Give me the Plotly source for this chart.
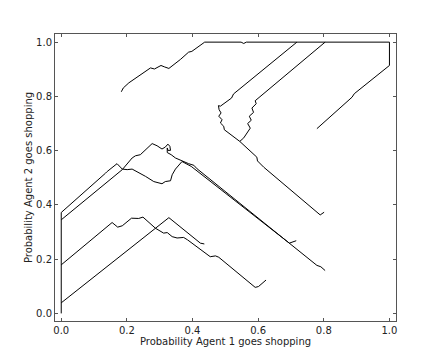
import plotly.graph_objects as go

# Trajectories (Probability Agent 1, Probability Agent 2)
traj_a_x = [0.183, 0.189, 0.206, 0.231, 0.262, 0.272, 0.284, 0.294, 0.304, 0.314, 0.328, 0.363, 0.388, 0.398, 0.437, 0.548, 0.556, 0.564, 1.0, 1.0, 0.893, 0.886, 0.779]
traj_a_y = [0.817, 0.831, 0.850, 0.872, 0.899, 0.905, 0.901, 0.909, 0.914, 0.909, 0.903, 0.936, 0.963, 0.966, 1.0, 1.0, 0.995, 1.0, 1.0, 0.914, 0.810, 0.797, 0.681]

traj_b_x = [0.718, 0.525, 0.519, 0.485, 0.479, 0.481, 0.487, 0.480, 0.490, 0.485, 0.495, 0.497, 0.544, 0.596, 0.598, 0.617, 0.789, 0.801]
traj_b_y = [1.0, 0.809, 0.794, 0.764, 0.766, 0.751, 0.739, 0.727, 0.714, 0.702, 0.690, 0.677, 0.634, 0.576, 0.562, 0.539, 0.363, 0.373]

traj_c_x = [0.804, 0.591, 0.594, 0.581, 0.586, 0.573, 0.579, 0.568, 0.576, 0.568, 0.556, 0.544]
traj_c_y = [1.0, 0.784, 0.773, 0.757, 0.741, 0.727, 0.712, 0.700, 0.683, 0.669, 0.647, 0.634]

traj_d_x = [0.0, 0.0, 0.135, 0.140, 0.170, 0.186, 0.201, 0.216, 0.257, 0.282, 0.307, 0.317, 0.333, 0.338, 0.348, 0.368, 0.396, 0.695, 0.716]
traj_d_y = [0.0, 0.372, 0.517, 0.523, 0.552, 0.532, 0.530, 0.532, 0.505, 0.486, 0.478, 0.486, 0.489, 0.511, 0.532, 0.560, 0.542, 0.259, 0.268]

traj_e_x = [0.0, 0.186, 0.216, 0.226, 0.241, 0.257, 0.277, 0.292, 0.307, 0.317, 0.325, 0.331, 0.333, 0.325, 0.323, 0.323, 0.335, 0.348, 0.363, 0.373, 0.388, 0.404, 0.414, 0.703, 0.779, 0.791, 0.804]
traj_e_y = [0.345, 0.530, 0.573, 0.581, 0.585, 0.603, 0.626, 0.618, 0.606, 0.613, 0.624, 0.616, 0.601, 0.601, 0.610, 0.593, 0.585, 0.573, 0.564, 0.560, 0.552, 0.546, 0.533, 0.251, 0.177, 0.172, 0.158]

traj_f_x = [0.0, 0.155, 0.172, 0.186, 0.214, 0.226, 0.236, 0.249, 0.262, 0.287, 0.312, 0.323, 0.338, 0.353, 0.373, 0.385, 0.454, 0.470, 0.480, 0.591, 0.601, 0.624]
traj_f_y = [0.179, 0.335, 0.318, 0.323, 0.351, 0.350, 0.350, 0.355, 0.341, 0.314, 0.296, 0.298, 0.283, 0.278, 0.280, 0.271, 0.209, 0.212, 0.207, 0.096, 0.099, 0.123]

traj_g_x = [0.0, 0.328, 0.424, 0.436]
traj_g_y = [0.039, 0.353, 0.259, 0.256]

trajectories = [
    (traj_a_x, traj_a_y),
    (traj_b_x, traj_b_y),
    (traj_c_x, traj_c_y),
    (traj_d_x, traj_d_y),
    (traj_e_x, traj_e_y),
    (traj_f_x, traj_f_y),
    (traj_g_x, traj_g_y),
]

tick_vals = [0.0, 0.2, 0.4, 0.6, 0.8, 1.0]
tick_text = ["0.0", "0.2", "0.4", "0.6", "0.8", "1.0"]

fig = go.Figure()
for tx, ty in trajectories:
    fig.add_trace(go.Scatter(x=tx, y=ty, mode="lines",
                             line=dict(color="black", width=1),
                             showlegend=False, hoverinfo="skip"))

axis_common = dict(
    automargin=False,
    showgrid=False, zeroline=False,
    showline=True, linecolor="#555555", linewidth=1, mirror="ticks",
    ticks="inside", ticklen=3, tickcolor="#555555", tickwidth=1,
    tickvals=tick_vals, ticktext=tick_text,
    tickfont=dict(family="DejaVu Sans", size=10, color="#222222"),
)

fig.update_layout(
    template="none",
    width=432, height=349,
    margin=dict(l=47, r=44, t=26, b=36),
    paper_bgcolor="white", plot_bgcolor="white",
    xaxis=dict(range=[-0.019, 1.02],
               title=dict(text="Probability Agent 1 goes shopping",
                          font=dict(family="DejaVu Sans", size=10, color="#222222"),
                          standoff=2),
               **axis_common),
    yaxis=dict(range=[-0.028, 1.03],
               title=dict(text="Probability Agent 2 goes shopping",
                          font=dict(family="DejaVu Sans", size=10, color="#222222"),
                          standoff=1),
               **axis_common),
)

fig.write_html("out.html")
